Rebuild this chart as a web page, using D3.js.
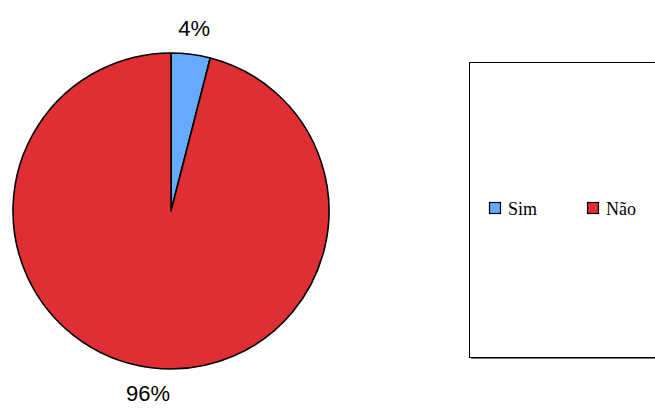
<!DOCTYPE html>
<html>
<head>
<meta charset="utf-8">
<script src="https://cdn.jsdelivr.net/npm/d3@7"></script>
<style>
  body { margin: 0; background: #fff; }
  svg { display: block; }
</style>
</head>
<body>
<svg id="chart" width="655" height="411"></svg>
<script>
var categories = ['Sim', 'Não'];
var values = [4, 96];
var labels = ['4%', '96%'];
var colors = ['#66aaff', '#df2f35'];

var svg = d3.select('#chart');
var cx = 171, cy = 211, radius = 158;

var pie = d3.pie().sort(null).value(function(d) { return d; });
var arcs = pie(values);
var arc = d3.arc().innerRadius(0).outerRadius(radius);
var labelArc = d3.arc().innerRadius(184).outerRadius(184);

var g = svg.append('g').attr('transform', 'translate(' + [cx, cy] + ')');

g.selectAll('path.slice')
  .data(arcs)
  .enter().append('path')
  .attr('class', 'slice')
  .attr('d', arc)
  .style('fill', function(d, i) { return colors[i]; })
  .style('stroke', '#000')
  .style('stroke-width', 1.6)
  .style('stroke-linejoin', 'round');

// percentage labels
g.selectAll('text.label')
  .data(arcs)
  .enter().append('text')
  .attr('class', 'label')
  .attr('transform', function(d) { return 'translate(' + labelArc.centroid(d) + ')'; })
  .attr('text-anchor', 'middle')
  .attr('dy', '0.36em')
  .style('font-family', '"Liberation Sans", Arial, sans-serif')
  .style('font-size', '22px')
  .style('fill', '#000')
  .text(function(d, i) { return labels[i]; });

// legend box with shadow
var legend = svg.append('g');
legend.append('rect')
  .attr('x', 471).attr('y', 64)
  .attr('width', 300).attr('height', 295)
  .style('fill', '#777');
legend.append('rect')
  .attr('x', 469.5).attr('y', 62.5)
  .attr('width', 300).attr('height', 295)
  .style('fill', '#fff')
  .style('stroke', '#000')
  .style('stroke-width', 1);

var legendX = d3.scalePoint().domain(categories).range([489, 587]);
var items = legend.selectAll('g.item')
  .data(categories)
  .enter().append('g')
  .attr('class', 'item')
  .attr('transform', function(d) { return 'translate(' + legendX(d) + ',202)'; });
items.append('rect')
  .attr('x', 0.5).attr('y', 0.5)
  .attr('width', 11).attr('height', 11)
  .style('fill', function(d, i) { return colors[i]; })
  .style('stroke', '#000')
  .style('stroke-width', 1.2);
items.append('text')
  .attr('x', 19).attr('y', 12.5)
  .style('font-family', '"Liberation Serif", "Times New Roman", serif')
  .style('font-size', '18px')
  .style('fill', '#000')
  .text(function(d) { return d; });
</script>
</body>
</html>
